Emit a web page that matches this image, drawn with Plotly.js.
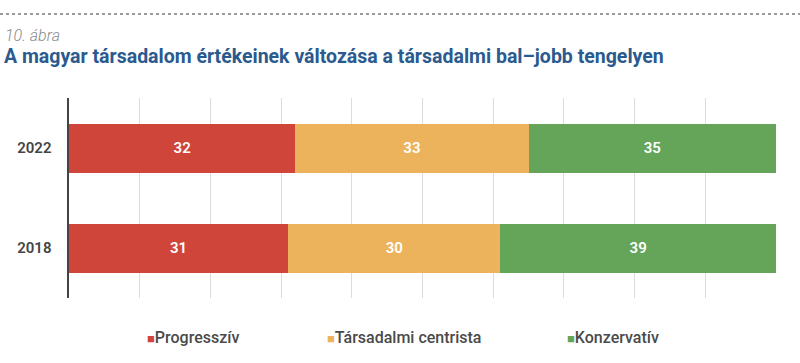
<!DOCTYPE html>
<html><head><meta charset="utf-8">
<script src="https://cdn.plot.ly/plotly-3.0.1.min.js"></script>
<style>html,body{margin:0;padding:0;background:#fff}#chart{width:800px;height:363px}</style>
</head><body><div id="chart"></div>
<script>
const years = ['2018', '2022'];
const seriesNames = ['Progresszív', 'Társadalmi centrista', 'Konzervatív'];
const progresszivValues = [31, 32];
const centristaValues = [30, 33];
const konzervativValues = [39, 35];
const seriesColors = ['#d0453a', '#ecb35c', '#65a55a'];

const allValues = [progresszivValues, centristaValues, konzervativValues];
const traces = allValues.map((vals, i) => ({
  type: 'bar', orientation: 'h',
  x: vals, y: years, name: seriesNames[i],
  marker: {color: seriesColors[i], line: {width: 0}},
  text: vals.map(String), textposition: 'inside', insidetextanchor: 'middle',
  textfont: {color: '#ffffff', size: 15, family: 'Roboto, sans-serif', weight: 600},
  width: 0.49, hoverinfo: 'none', showlegend: false
}));

const px = v => (v - 69) / 707;
const py = v => (298 - v) / 200;
const legendX = [145, 325, 565];
const legendAnns = seriesNames.map((n, i) => ({
  text: '<span style="color:' + seriesColors[i] + ';font-size:13px">■</span>' + n,
  xref: 'paper', yref: 'paper', x: px(legendX[i]), y: py(337), xanchor: 'left', yanchor: 'middle',
  showarrow: false, font: {size: 16, color: '#4a4a4a', family: 'Roboto, sans-serif', weight: 500}
}));

const layout = {
  width: 800, height: 363,
  margin: {l: 69, r: 24, t: 98, b: 65},
  paper_bgcolor: '#fff', plot_bgcolor: '#fff',
  barmode: 'stack', bargap: 0.51,
  showlegend: false,
  title: {text: 'A magyar társadalom értékeinek változása a társadalmi bal–jobb tengelyen',
    x: 0.005, xanchor: 'left', xref: 'container', y: 1 - 56/363, yanchor: 'middle', yref: 'container',
    font: {size: 19.5, color: '#2a5a8e', family: 'Roboto, sans-serif', weight: 700}},
  xaxis: {range: [0, 100], dtick: 10, showticklabels: false, showgrid: true, gridcolor: '#dcdcdc', gridwidth: 1,
    zeroline: false, showline: false, fixedrange: true},
  yaxis: {type: 'category', categoryorder: 'array', categoryarray: years, range: [-0.5, 1.5],
    showline: true, linecolor: '#444', linewidth: 2.5, showgrid: false, zeroline: false,
    ticks: '', ticklabelstandoff: 12,
    tickfont: {size: 15, color: '#444', family: 'Roboto, sans-serif', weight: 600}},
  annotations: [{text: '10. ábra', xref: 'paper', yref: 'paper', x: px(3), y: py(35),
    xanchor: 'left', yanchor: 'middle', showarrow: false,
    font: {size: 16, color: '#8a8a8a', family: 'Roboto, sans-serif', style: 'italic', weight: 300}}].concat(legendAnns),
  shapes: [{type: 'line', xref: 'paper', yref: 'paper', x0: px(0), x1: px(800), y0: py(14), y1: py(14),
    line: {color: '#9a9a9a', width: 2, dash: 'dot'}}]
};
Plotly.newPlot('chart', traces, layout, {displayModeBar: false, staticPlot: true});
</script></body></html>
